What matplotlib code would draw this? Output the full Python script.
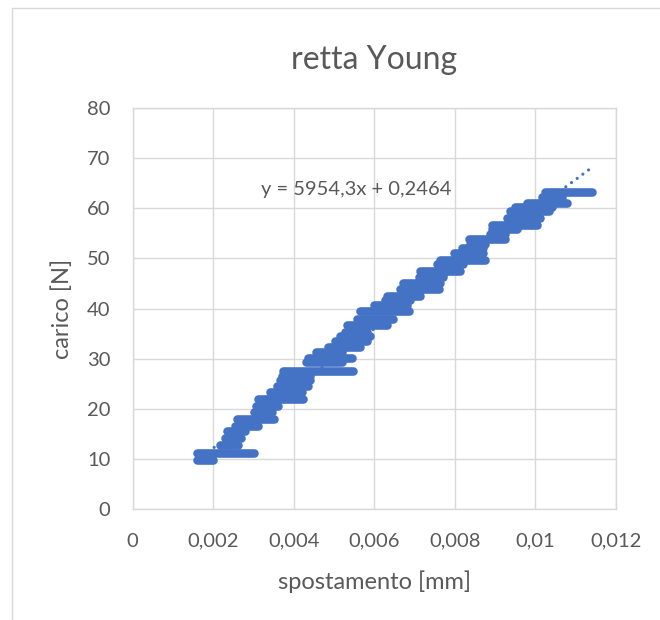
import matplotlib
matplotlib.use("Agg")
import matplotlib.pyplot as plt
import numpy as np
from matplotlib.patches import Rectangle

plt.rcParams['font.family'] = ['Lato', 'DejaVu Sans']

# ---- data ----
# staircase of load plateaus: load level [N], displacement start / end [mm]
plateau_load = [9.8, 11.2, 12.8, 14.2, 15.5, 16.6, 17.9, 19.3, 20.5, 22.0,
                23.3, 24.5, 25.8, 26.6, 27.6, 29.3, 30.2, 31.3, 32.4, 33.6,
                34.5, 35.3, 36.8, 37.9, 39.6, 40.6, 41.6, 42.5, 43.8, 45.1,
                46.3, 47.5, 48.9, 49.7, 51.0, 52.0, 52.9, 53.8, 54.9, 55.8,
                56.6, 58.1, 59.5, 60.2, 61.0, 62.3, 63.3]
plateau_x_start = [0.00160, 0.00160, 0.00218, 0.00228, 0.00235, 0.00255, 0.00258, 0.00300, 0.00305, 0.00312,
                   0.00341, 0.00358, 0.00365, 0.00370, 0.00374, 0.00430, 0.00436, 0.00455, 0.00486, 0.00503,
                   0.00515, 0.00527, 0.00532, 0.00557, 0.00565, 0.00600, 0.00627, 0.00631, 0.00664, 0.00672,
                   0.00710, 0.00714, 0.00755, 0.00763, 0.00797, 0.00817, 0.00838, 0.00834, 0.00888, 0.00892,
                   0.00892, 0.00929, 0.00937, 0.00950, 0.00979, 0.01016, 0.01024]
plateau_x_end = [0.00200, 0.00300, 0.00262, 0.00268, 0.00278, 0.00310, 0.00350, 0.00345, 0.00360, 0.00423,
                 0.00420, 0.00436, 0.00440, 0.00440, 0.00548, 0.00520, 0.00544, 0.00520, 0.00565, 0.00581,
                 0.00590, 0.00581, 0.00631, 0.00647, 0.00685, 0.00680, 0.00689, 0.00714, 0.00760, 0.00763,
                 0.00770, 0.00813, 0.00821, 0.00875, 0.00871, 0.00870, 0.00875, 0.00925, 0.00925, 0.00954,
                 0.01004, 0.01012, 0.01033, 0.01040, 0.01078, 0.01066, 0.01140]

trend_slope = 5954.3
trend_intercept = 0.2464
equation_text = "y = 5954,3x + 0,2464"

x_ticks = [0, 0.002, 0.004, 0.006, 0.008, 0.010, 0.012]
x_tick_labels = ["0", "0,002", "0,004", "0,006", "0,008", "0,01", "0,012"]
y_ticks = [0, 10, 20, 30, 40, 50, 60, 70, 80]
y_tick_labels = ["0", "10", "20", "30", "40", "50", "60", "70", "80"]

title = "retta Young"
x_label = "spostamento [mm]"
y_label = "carico [N]"

# ---- styling ----
blue = "#4472C4"
grid_c = "#D9D9D9"
text_c = "#595959"

W, H = 660, 620
fig = plt.figure(figsize=(W / 100, H / 100), dpi=100)
fig.patch.set_facecolor("white")

# outer chart border
fig.patches.append(Rectangle((12 / W, -0.1), 1.2, 1 - 8 / H + 0.1,
                             transform=fig.transFigure, fill=False,
                             edgecolor=grid_c, linewidth=1.0))

PL, PR, PT, PB = 132.7, 616.0, 108.0, 509.0
ax = fig.add_axes([PL / W, 1 - PB / H, (PR - PL) / W, (PB - PT) / H])
ax.set_xlim(0, 0.012)
ax.set_ylim(0, 80)
ax.set_xticks(x_ticks)
ax.set_xticklabels(x_tick_labels)
ax.set_yticks(y_ticks)
ax.set_yticklabels(y_tick_labels)
ax.tick_params(axis="both", length=0, labelsize=14.5, colors=text_c)
ax.tick_params(axis="x", pad=17)
ax.tick_params(axis="y", pad=16)
ax.grid(True, color=grid_c, linewidth=1.0)
ax.set_axisbelow(True)
for s in ax.spines.values():
    s.set_color(grid_c)
    s.set_linewidth(1.0)

# data plateaus
ax.hlines(plateau_load, plateau_x_start, plateau_x_end, colors=blue,
          linewidth=6.2, capstyle="round", zorder=3)

# linear trendline (round dots)
x_tr = np.array([min(plateau_x_start), max(plateau_x_end)])
ax.plot(x_tr, trend_slope * x_tr + trend_intercept, color=blue,
        linewidth=2.3, linestyle=(0, (0.01, 2.2)), dash_capstyle="round",
        solid_capstyle="round", zorder=4)

ax.text(0.00555, 63.8, equation_text, ha="center", va="center",
        fontsize=14.5, color=text_c, zorder=5)

ax.set_title(title, fontsize=23, color=text_c,
             y=(PB - 68) / (PB - PT), va="center")

ax.set_xlabel(x_label, fontsize=17, color=text_c)
ax.xaxis.set_label_coords(0.5, (PB - 582) / (PB - PT))
ax.xaxis.label.set_va("center")
ax.set_ylabel(y_label, fontsize=17, color=text_c)
ax.yaxis.set_label_coords((62.5 - PL) / (PR - PL), 0.5)
ax.yaxis.label.set_va("center")

fig.savefig("out.png", dpi=100, facecolor="white")
